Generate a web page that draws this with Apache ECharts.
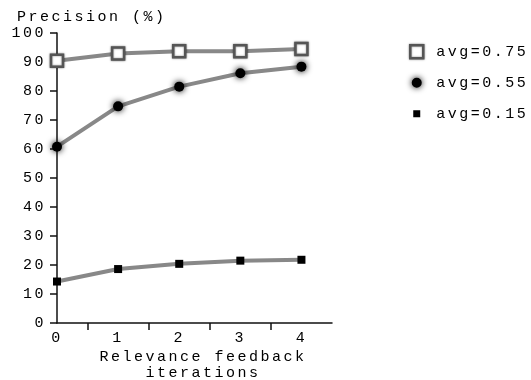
<!DOCTYPE html>
<html>
<head>
<meta charset="utf-8">
<style>html,body{margin:0;padding:0;background:#fff}#c{width:531px;height:380px}</style>
<script>
// widen monospace text spacing to match the reference
(function(){
  var P = CanvasRenderingContext2D.prototype;
  var ft = P.fillText, mt = P.measureText;
  P.fillText = function(){ try{this.letterSpacing='2.5px';}catch(e){} return ft.apply(this, arguments); };
  P.measureText = function(){ try{this.letterSpacing='2.5px';}catch(e){} return mt.apply(this, arguments); };
})();
</script>
<script src="https://cdn.jsdelivr.net/npm/echarts@6/dist/echarts.min.js"></script>
</head>
<body>
<div id="c"></div>
<script>
var iterations = [0, 1, 2, 3, 4];
var avg075 = [90.4, 92.9, 93.7, 93.7, 94.5];
var avg055 = [60.8, 74.7, 81.5, 86.1, 88.4];
var avg015 = [14.3, 18.6, 20.4, 21.5, 21.8];
var yTicks = [0, 10, 20, 30, 40, 50, 60, 70, 80, 90, 100];
var seriesNames = ['avg=0.75', 'avg=0.55', 'avg=0.15'];

function pairs(vals){ return iterations.map(function(x,i){ return [x, vals[i]]; }); }

var FONT = 'Liberation Mono';
var chart = echarts.init(document.getElementById('c'), null, {renderer:'canvas'});
var lineStyle = {color:'#888', width:4};
var hollowStyle = {color:'#fff', borderColor:'#555', borderWidth:2.5, shadowBlur:2, shadowColor:'rgba(0,0,0,0.5)'};
chart.setOption({
  animation:false,
  backgroundColor:'#fff',
  textStyle:{fontFamily:FONT, fontSize:15, color:'#000'},
  grid:{left:57, top:33, right:199, bottom:57, containLabel:false, outerBoundsMode:'none'},
  xAxis:{
    type:'value', min:0, max:4.5,
    axisLine:{lineStyle:{color:'#111', width:1.5}},
    axisTick:{show:true, length:7, lineStyle:{color:'#111', width:1.5}, customValues:[0.5,1.5,2.5,3.5]},
    axisLabel:{customValues:iterations, margin:6, fontFamily:FONT, fontSize:15, color:'#000'},
    splitLine:{show:false},
    name:'Relevance feedback\niterations', nameLocation:'middle', nameGap:26, nameMoveOverlap:false,
    nameTextStyle:{fontFamily:FONT, fontSize:15, color:'#000', lineHeight:16, padding:[0,0,0,17]}
  },
  yAxis:{
    type:'value', min:0, max:100, interval:10,
    axisLine:{show:true, lineStyle:{color:'#111', width:1.5}},
    axisTick:{show:true, length:7, lineStyle:{color:'#111', width:1.5}},
    axisLabel:{margin:11, fontFamily:FONT, fontSize:15, color:'#000'},
    splitLine:{show:false}
  },
  graphic:[{type:'text', left:17, top:8, style:{text:'Precision (%)', font:'15px "Liberation Mono"', fill:'#000'}}],
  legend:{
    orient:'vertical', left:404, top:38, itemWidth:13, itemHeight:13, itemGap:13.5,
    textStyle:{fontFamily:FONT, fontSize:15, color:'#000', padding:[0,0,0,8]},
    data:[
      {name:seriesNames[0], icon:'rect', itemStyle:hollowStyle},
      {name:seriesNames[1], icon:'path://M0 0L0.01 0M13 13L13.01 13M6.5 1.5A5 5 0 1 1 6.49 1.5Z', itemStyle:{color:'#000', shadowBlur:6, shadowColor:'#000'}},
      {name:seriesNames[2], icon:'path://M0 0L0.01 0M13 13L13.01 13M3 3H10V10H3Z', itemStyle:{color:'#000'}}
    ]
  },
  series:[
    {name:seriesNames[0], type:'line', data:pairs(avg075), lineStyle:lineStyle,
     symbol:'rect', symbolSize:12, itemStyle:hollowStyle},
    {name:seriesNames[1], type:'line', data:pairs(avg055), lineStyle:lineStyle,
     symbol:'circle', symbolSize:10, itemStyle:{color:'#000', shadowBlur:6, shadowColor:'#000'}},
    {name:seriesNames[2], type:'line', data:pairs(avg015), lineStyle:lineStyle,
     symbol:'rect', symbolSize:8, itemStyle:{color:'#000'}}
  ]
});
</script>
</body>
</html>
